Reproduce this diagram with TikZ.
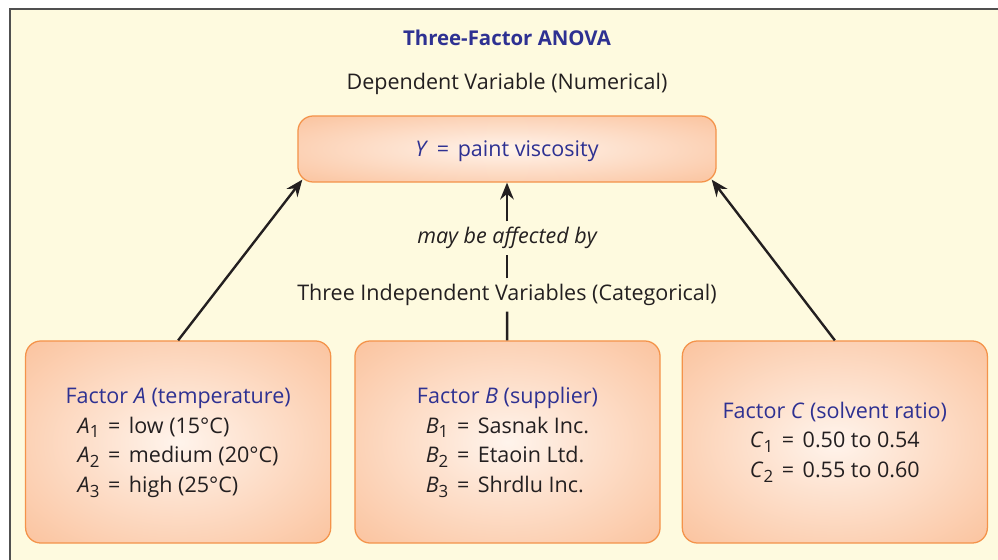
\documentclass[tikz,border=0pt]{standalone}
\usepackage{fontspec}
\setmainfont{Open Sans}
\usetikzlibrary{arrows.meta,positioning,calc}
\definecolor{panelcream}{HTML}{FEFADF}
\definecolor{panelrule}{HTML}{505050}
\definecolor{boxin}{HTML}{FFF4EC}
\definecolor{boxout}{HTML}{F9B080}
\definecolor{boxedge}{HTML}{F4934A}
\definecolor{anovablue}{HTML}{2E3192}
\definecolor{ink}{HTML}{231F20}
\pgfdeclareradialshading{boxglow}{\pgfpoint{0bp}{0bp}}{color(0bp)=(boxin); color(12bp)=(boxin!75!boxout); color(50bp)=(boxout)}
\newcommand{\sub}[2]{\textit{#1}\raisebox{-0.42ex}{\fontsize{12}{12}\selectfont #2}}
\newcommand{\eqs}{\hspace{0.4em}=\hspace{0.4em}}

\begin{document}
\begin{tikzpicture}[x=0.025cm,y=-0.025cm,
      txt/.style={text=ink,inner sep=4pt,font=\fontsize{15.3}{21.3}\selectfont},
      headline/.style={text=anovablue,font=\bfseries\fontsize{14.5}{18}\selectfont},
      glowbox/.style={draw=boxedge,line width=0.9pt,rounded corners=0.38cm,shading=boxglow,align=center,text=ink,font=\fontsize{15.3}{21.3}\selectfont},
      response/.style={glowbox,minimum width=10.45cm,minimum height=1.65cm,text depth=0pt},
      factor/.style={glowbox,minimum width=7.625cm,minimum height=5.05cm},
      arr/.style={-{Stealth[length=4.2mm,width=3.4mm]},line width=1.7pt,ink},
      link/.style={line width=1.7pt,ink}
    ]
    % panel
    \fill[white] (0,0) rectangle (998,559);
    \useasboundingbox (0,0) rectangle (998,559);
    \draw[panelrule,fill=panelcream,line width=1.5pt] (10,9) rectangle (1020,580);

    \node[headline] (title) at (507,38) {Three-Factor ANOVA};
    \node[txt] (dep) at (507,84) {Dependent Variable (Numerical)};
    \node[response] (yv) at (507,149) {\textcolor{anovablue}{\textit{Y}\eqs paint viscosity}};
    \node[txt,font=\itshape\fontsize{15.3}{21.3}\selectfont] (may) at (507,238) {may be affected by};
    \node[txt] (indep) at (507,295) {Three Independent Variables (Categorical)};

    % factors
    \node[factor] (fb) at (507.5,442) {\strut\textcolor{anovablue}{Factor \textit{B} (supplier)}\\
      \begin{tabular}[t]{@{}l@{}}\sub{B}{1}\eqs Sasnak Inc.\\ \sub{B}{2}\eqs Etaoin Ltd.\\ \sub{B}{3}\eqs Shrdlu Inc.\end{tabular}};
    \node[factor,left=0.575cm of fb] (fa) {\strut\textcolor{anovablue}{Factor \textit{A} (temperature)}\\
      \begin{tabular}[t]{@{}l@{}}\sub{A}{1}\eqs low (15°C)\\ \sub{A}{2}\eqs medium (20°C)\\ \sub{A}{3}\eqs high (25°C)\end{tabular}};
    \node[factor,right=0.525cm of fb] (fc) {\strut\textcolor{anovablue}{Factor \textit{C} (solvent ratio)}\\
      \begin{tabular}[t]{@{}l@{}}\sub{C}{1}\eqs 0.50 to 0.54\\ \sub{C}{2}\eqs 0.55 to 0.60\end{tabular}};

    % connectors
    \draw[arr] (fa.north) -- ($(yv.south west)+(5,-3)$);
    \draw[arr] (fc.north) -- ($(yv.south east)+(-5,-3)$);
    \draw[arr] (may) -- (yv);
    \draw[link] (indep) -- (may);
    \draw[link] (fb) -- (indep);
  \end{tikzpicture}
\end{document}
